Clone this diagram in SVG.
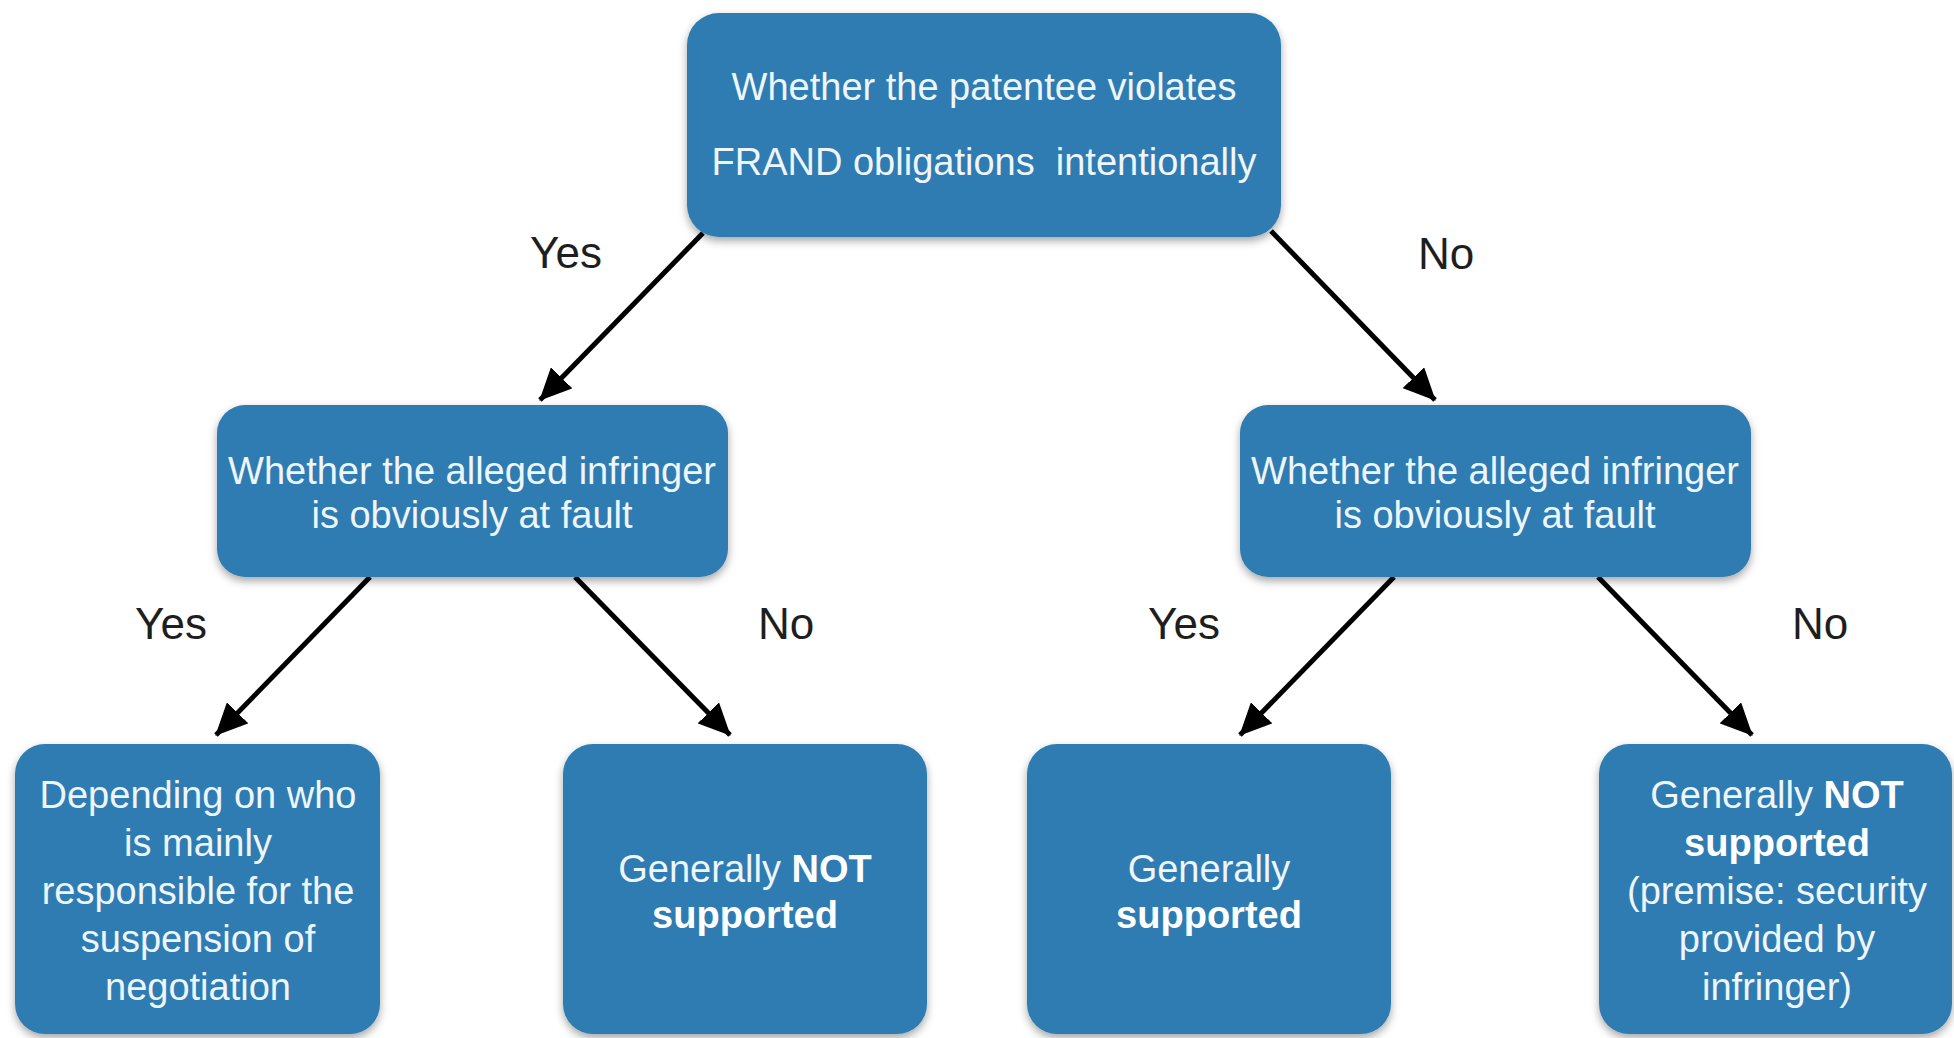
<svg xmlns="http://www.w3.org/2000/svg" width="1954" height="1038" viewBox="0 0 1954 1038">
  <defs>
    <filter id="shadow" x="-5%" y="-5%" width="110%" height="115%">
      <feDropShadow dx="0" dy="4" stdDeviation="4" flood-color="#000" flood-opacity="0.35"/>
    </filter>
    <marker id="arrow" markerUnits="userSpaceOnUse" markerWidth="32" markerHeight="30" viewBox="0 0 32 30" refX="31" refY="15" orient="auto">
      <path d="M0,0 L32,15 L0,30 Z" fill="#000"/>
    </marker>
    <style>
      .box { fill: #2e7bb1; filter: url(#shadow); }
      .nt { font-family: "Liberation Sans", Arial, sans-serif; font-size: 38px; fill: #eef5fb; text-anchor: middle; }
      .b { font-weight: bold; fill: #ffffff; }
      .lbl { font-family: "Liberation Sans", Arial, sans-serif; font-size: 44px; fill: #1e1e1e; text-anchor: middle; }
      .conn { stroke: #000; stroke-width: 5; fill: none; marker-end: url(#arrow); }
    </style>
  </defs>
  <rect width="1954" height="1038" fill="#ffffff"/>

  <g id="connectors">
    <line class="conn" x1="703" y1="233" x2="540" y2="400"/>
    <line class="conn" x1="1271" y1="231" x2="1435" y2="400"/>
    <line class="conn" x1="370" y1="577" x2="216" y2="735"/>
    <line class="conn" x1="575" y1="577" x2="730" y2="735"/>
    <line class="conn" x1="1394" y1="577" x2="1240" y2="735"/>
    <line class="conn" x1="1598" y1="577" x2="1752" y2="735"/>
    <text class="lbl" x="566" y="268">Yes</text>
    <text class="lbl" x="1446" y="269">No</text>
    <text class="lbl" x="171" y="639">Yes</text>
    <text class="lbl" x="786" y="639">No</text>
    <text class="lbl" x="1184" y="639">Yes</text>
    <text class="lbl" x="1820" y="639">No</text>
  </g>

  <g id="node-top">
    <rect class="box" x="687" y="13" width="594" height="224" rx="32"/>
    <text class="nt" x="984" y="100">Whether the patentee violates</text>
    <text class="nt" x="984" y="175" xml:space="preserve">FRAND obligations  intentionally</text>
  </g>

  <g id="node-mid-left">
    <rect class="box" x="217" y="405" width="511" height="172" rx="28"/>
    <text class="nt" x="472" y="484">Whether the alleged infringer</text>
    <text class="nt" x="472" y="528">is obviously at fault</text>
  </g>

  <g id="node-mid-right">
    <rect class="box" x="1240" y="405" width="511" height="172" rx="28"/>
    <text class="nt" x="1495" y="484">Whether the alleged infringer</text>
    <text class="nt" x="1495" y="528">is obviously at fault</text>
  </g>

  <g id="node-bottom-1">
    <rect class="box" x="15" y="744" width="365" height="290" rx="30"/>
    <text class="nt" x="198" y="808">Depending on who</text>
    <text class="nt" x="198" y="856">is mainly</text>
    <text class="nt" x="198" y="904">responsible for the</text>
    <text class="nt" x="198" y="952">suspension of</text>
    <text class="nt" x="198" y="1000">negotiation</text>
  </g>

  <g id="node-bottom-2">
    <rect class="box" x="563" y="744" width="364" height="290" rx="30"/>
    <text class="nt" x="745" y="882">Generally <tspan class="b">NOT</tspan></text>
    <text class="nt" x="745" y="928"><tspan class="b">supported</tspan></text>
  </g>

  <g id="node-bottom-3">
    <rect class="box" x="1027" y="744" width="364" height="290" rx="30"/>
    <text class="nt" x="1209" y="882">Generally</text>
    <text class="nt" x="1209" y="928"><tspan class="b">supported</tspan></text>
  </g>

  <g id="node-bottom-4">
    <rect class="box" x="1599" y="744" width="353" height="290" rx="30"/>
    <text class="nt" x="1777" y="808">Generally <tspan class="b">NOT</tspan></text>
    <text class="nt" x="1777" y="856"><tspan class="b">supported</tspan></text>
    <text class="nt" x="1777" y="904">(premise: security</text>
    <text class="nt" x="1777" y="952">provided by</text>
    <text class="nt" x="1777" y="1000">infringer)</text>
  </g>
</svg>
